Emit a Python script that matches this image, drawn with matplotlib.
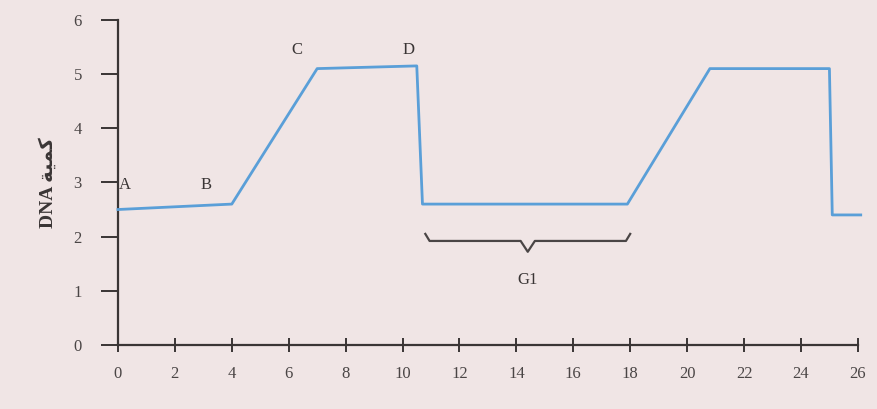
import matplotlib
matplotlib.use("Agg")
import matplotlib.pyplot as plt

# Data
time_h = [0, 4, 7, 10.5, 10.7, 17.9, 20.8, 25.0, 25.1, 26.1]
dna_amount = [2.5, 2.6, 5.1, 5.15, 2.6, 2.6, 5.1, 5.1, 2.4, 2.4]
x_ticks = list(range(0, 27, 2))
y_ticks = list(range(0, 7))
point_labels = ["A", "B", "C", "D"]
point_pos = [(0.25, 2.95), (3.1, 2.95), (6.3, 5.45), (10.2, 5.45)]
g1_range = (10.8, 18.0)

bg = "#f0e5e5"
fig = plt.figure(figsize=(8.77, 4.09), dpi=100, facecolor=bg)
ax = fig.add_axes([0.1345, 0.1565, 0.8437, 0.795], facecolor=bg)

ax.plot(time_h, dna_amount, color="#5a9fd8", lw=2.0, clip_on=False, zorder=3)

ax.set_xlim(0, 26)
ax.set_ylim(0, 6)
ax.set_xticks(x_ticks)
ax.set_yticks(y_ticks)
for s in ["top", "right"]:
    ax.spines[s].set_visible(False)
for s in ["left", "bottom"]:
    ax.spines[s].set_color("#3a3535")
    ax.spines[s].set_linewidth(1.6)
ax.tick_params(axis="both", colors="#3a3535", labelcolor="#4a4545", width=1.4,
               length=10, labelsize=12)
ax.tick_params(axis="x", direction="inout", pad=10)
ax.tick_params(axis="y", length=12, pad=14)
for lab in ax.get_xticklabels() + ax.get_yticklabels():
    lab.set_family("Liberation Serif")

for t, (px, py) in zip(point_labels, point_pos):
    ax.text(px, py, t, family="Liberation Serif", fontsize=12, color="#3a3535",
            ha="center", va="center")

# G1 brace
x0, x1 = g1_range
xm = (x0 + x1) / 2
bx = [x0, x0 + 0.15, xm - 0.25, xm, xm + 0.25, x1 - 0.15, x1]
by = [2.05, 1.92, 1.92, 1.72, 1.92, 1.92, 2.05]
ax.plot(bx, by, color="#4a4545", lw=1.6)
ax.text(xm, 1.2, "G1", family="Liberation Serif", fontsize=12, color="#3a3535",
        ha="center", va="center")

ax.set_ylabel("DNA \uFE94\uFEF4\uFEE4\uFEDB", family=["Liberation Serif", "DejaVu Sans"],
              fontsize=14, fontweight="bold", color="#3a3535", labelpad=12)

fig.savefig("out.png", dpi=100, facecolor=bg)
